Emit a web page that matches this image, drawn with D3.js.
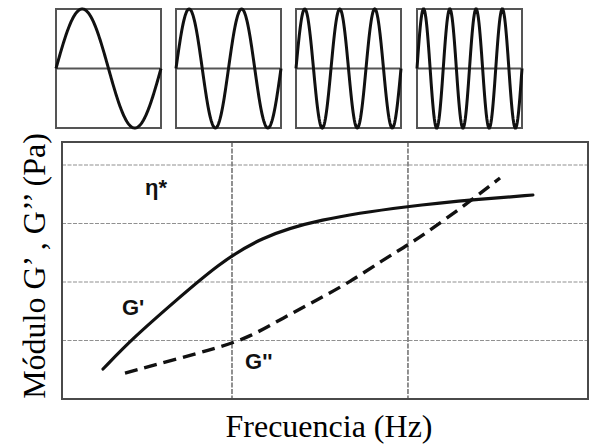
<!DOCTYPE html>
<html><head><meta charset="utf-8">
<script src="https://cdn.jsdelivr.net/npm/d3@7/dist/d3.min.js"></script>
<style>body{margin:0;background:#fff}svg{display:block}</style>
</head><body>
<svg id="c" width="590" height="444"></svg>
<script>
// ---- data ----
const panelCycles = [1, 2, 3, 4];
const xGrid = [0, 1];
const yGrid = [1, 2, 3, 4];
const gPrimeX = [-0.733, -0.5625, -0.32, -0.08, 0.159, 0.483, 1.0, 1.426, 1.710];
const gPrimeY = [0.513, 1.043, 1.68, 2.30, 2.76, 3.07, 3.30, 3.42, 3.487];
const gDoubleX = [-0.608, -0.0795, 0.102, 0.290, 0.483, 0.670, 0.858, 1.0, 1.142, 1.335, 1.523];
const gDoubleY = [0.444, 0.872, 1.060, 1.385, 1.692, 2.000, 2.376, 2.632, 2.920, 3.340, 3.778];
const labels = [
  {t: "η*", x: -0.494, y: 3.487},
  {t: "G'", x: -0.625, y: 1.436},
  {t: "G''", x: 0.074, y: 0.513}
];
const xTitle = "Frecuencia (Hz)";
const yTitle = "Módulo G’ , G’’ (Pa)";

const svg = d3.select("#c");
const L = 62, R = 588, T = 142, B = 399;
const x = d3.scaleLinear().domain([-0.966, 2.023]).range([L, R]);
const y = d3.scaleLinear().domain([0, 4.393]).range([B, T]);

// grid
svg.append("g").selectAll("line").data(yGrid).join("line")
  .attr("x1", L).attr("x2", R).attr("y1", d => y(d)).attr("y2", d => y(d))
  .attr("stroke", "#909090").attr("stroke-width", 1.2).attr("stroke-dasharray", "4,1.5");
svg.append("g").selectAll("line").data(xGrid).join("line")
  .attr("y1", T).attr("y2", B).attr("x1", d => x(d)).attr("x2", d => x(d))
  .attr("stroke", "#555").attr("stroke-width", 1.3).attr("stroke-dasharray", "5,1.5");
// border
svg.append("rect").attr("x", L).attr("y", T).attr("width", R - L).attr("height", B - T)
  .attr("fill", "none").attr("stroke", "#4a4a4a").attr("stroke-width", 2);

const line = d3.line().x(d => x(d[0])).y(d => y(d[1])).curve(d3.curveBasis);
svg.append("path").datum(d3.zip(gPrimeX, gPrimeY)).attr("d", line)
  .attr("fill", "none").attr("stroke", "#111").attr("stroke-width", 3.2).attr("stroke-linecap", "round");
svg.append("path").datum(d3.zip(gDoubleX, gDoubleY)).attr("d", line)
  .attr("fill", "none").attr("stroke", "#111").attr("stroke-width", 3.4).attr("stroke-dasharray", "13,7");

svg.append("g").selectAll("text").data(labels).join("text")
  .attr("x", d => x(d.x)).attr("y", d => y(d.y)).text(d => d.t)
  .attr("font-family", "Liberation Sans, Arial, sans-serif").attr("font-weight", "bold")
  .attr("font-size", 22).attr("fill", "#111");

// titles
svg.append("text").attr("x", 329).attr("y", 437).attr("text-anchor", "middle")
  .attr("font-family", "Liberation Serif, Times New Roman, serif").attr("font-size", 32).text(xTitle);
svg.append("text").attr("transform", "translate(45,266) rotate(-90)").attr("text-anchor", "middle")
  .attr("font-family", "Liberation Serif, Times New Roman, serif").attr("font-size", 32).text(yTitle);

// top panels
const panelX = [56, 176, 296, 417];
const PW = 105, PT = 9, PB = 128;
panelCycles.forEach((n, i) => {
  const g = svg.append("g");
  const px = d3.scaleLinear().domain([0, n]).range([panelX[i], panelX[i] + PW]);
  const py = d3.scaleLinear().domain([-1, 1]).range([PB, PT]);
  g.append("rect").attr("x", panelX[i]).attr("y", PT).attr("width", PW).attr("height", PB - PT)
    .attr("fill", "none").attr("stroke", "#555").attr("stroke-width", 2);
  g.append("line").attr("x1", panelX[i]).attr("x2", panelX[i] + PW).attr("y1", py(0)).attr("y2", py(0))
    .attr("stroke", "#555").attr("stroke-width", 2);
  const pts = d3.range(0, n + 1e-9, n / 200).map(t => [t, Math.sin(2 * Math.PI * t)]);
  g.append("path").datum(pts).attr("d", d3.line().x(d => px(d[0])).y(d => py(d[1])))
    .attr("fill", "none").attr("stroke", "#111").attr("stroke-width", 3);
});
</script>
</body></html>
